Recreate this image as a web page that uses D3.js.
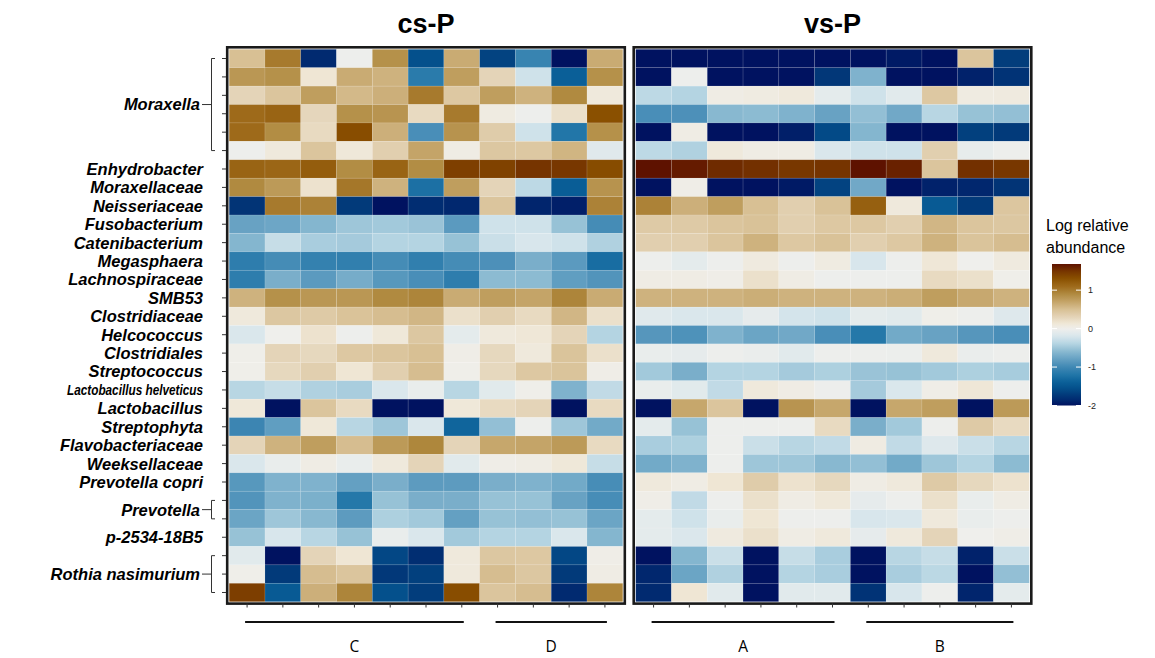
<!DOCTYPE html>
<html>
<head>
<meta charset="utf-8">
<script src="https://cdn.jsdelivr.net/npm/d3@7"></script>
<style>
  body { margin: 0; background: #fff; }
  svg { display: block; font-family: "Liberation Sans", Arial, sans-serif; }
</style>
</head>
<body>
<svg id="chart" width="1155" height="658"></svg>
<script>
// taxa groups: name, number of rows
const groups = [
  ["Moraxella", 6], ["Enhydrobacter", 1], ["Moraxellaceae", 1], ["Neisseriaceae", 1],
  ["Fusobacterium", 1], ["Catenibacterium", 1], ["Megasphaera", 1], ["Lachnospiraceae", 1],
  ["SMB53", 1], ["Clostridiaceae", 1], ["Helcococcus", 1], ["Clostridiales", 1],
  ["Streptococcus", 1], ["Lactobacillus helveticus", 1], ["Lactobacillus", 1], ["Streptophyta", 1],
  ["Flavobacteriaceae", 1], ["Weeksellaceae", 1], ["Prevotella copri", 1], ["Prevotella", 2],
  ["p-2534-18B5", 1], ["Rothia nasimurium", 3]
]

const panels = ["cs-P", "vs-P"]
const samples = d3.range(1, 12).map(d => "s" + d)
const sampleGroups = {
  "cs-P": [["C", 1, 7], ["D", 8, 11]],
  "vs-P": [["A", 1, 6], ["B", 7, 11]]
}
const legendTicks = [1, 0, -1, -2]

// log relative abundance, one row per taxon row, 11 samples
const csP = [
  [0.5, 1.0, -1.85, -0.02, 0.85, -1.55, 0.65, -1.65, -1.05, -2, 0.65],
  [0.8, 0.85, 0.15, 0.65, 0.6, -1.15, 0.75, 0.3, -0.25, -1.4, 0.85],
  [0.3, 0.45, 0.75, 0.55, 0.62, 1.0, 0.42, 0.75, 0.6, 0.9, 0.1],
  [1.1, 1.15, 0.28, 0.85, 0.82, 0.25, 1.0, 0.07, -0.02, 0.2, 1.3],
  [1.1, 0.88, 0.25, 1.32, 0.62, -0.95, 0.83, 0.38, -0.25, -1.2, 0.85],
  [-0.02, 0.1, 0.45, 0.12, 0.35, 0.7, 0.05, 0.43, 0.42, 0.58, -0.13],
  [1.15, 1.13, 1.2, 0.88, 1.15, 0.88, 1.42, 1.4, 1.5, 1.48, 1.33],
  [0.9, 0.78, 0.18, 1.02, 0.6, -1.25, 0.75, 0.3, -0.35, -1.42, 0.83],
  [-1.77, 1.0, 0.95, -1.72, -2, -1.83, -1.86, 0.45, -1.88, -1.92, 0.95],
  [-0.78, -0.75, -0.62, -0.5, -0.48, -0.52, -0.85, -0.25, -0.25, -0.53, -0.97],
  [-0.62, -0.3, -0.45, -0.47, -0.4, -0.4, -0.53, -0.28, -0.2, -0.25, -0.42],
  [-1.12, -0.97, -1.08, -1.1, -0.97, -1.1, -0.97, -0.93, -0.68, -0.85, -1.28],
  [-1.12, -0.68, -0.85, -0.7, -0.87, -0.95, -1.12, -0.58, -0.58, -0.82, -0.9],
  [0.6, 0.85, 0.8, 0.8, 0.9, 0.93, 0.65, 0.75, 0.7, 0.93, 0.65],
  [0.1, 0.43, 0.4, 0.47, 0.52, 0.57, 0.2, 0.35, 0.25, 0.57, 0.2],
  [-0.18, 0.0, 0.18, -0.02, 0.12, 0.43, -0.1, 0.1, 0.13, 0.3, -0.4],
  [0.02, 0.3, 0.27, 0.42, 0.45, 0.5, 0.03, 0.27, 0.1, 0.46, 0.2],
  [0.02, 0.27, 0.35, 0.15, 0.35, 0.52, 0.02, 0.27, 0.42, 0.46, 0.03],
  [-0.38, -0.3, -0.42, -0.45, -0.18, -0.05, -0.38, -0.12, 0.02, -0.65, -0.33],
  [0.12, -2, 0.45, 0.25, -2, -2, 0.12, 0.25, 0.3, -2, 0.25],
  [-1.03, -0.82, 0.12, -0.38, -0.5, -0.18, -1.35, -0.55, -0.02, -0.5, -0.72],
  [0.3, 0.6, 0.75, 0.52, 0.78, 0.92, 0.3, 0.68, 0.7, 0.78, 0.25],
  [-0.18, -0.05, 0.05, -0.05, 0.1, 0.3, -0.12, 0.03, 0.05, 0.12, -0.3],
  [-0.87, -0.65, -0.65, -0.8, -0.68, -0.84, -0.84, -0.68, -0.65, -0.72, -0.96],
  [-0.9, -0.65, -0.67, -1.18, -0.53, -0.68, -0.68, -0.53, -0.53, -0.78, -0.96],
  [-0.76, -0.5, -0.6, -0.84, -0.43, -0.48, -0.8, -0.53, -0.55, -0.53, -0.76],
  [-0.53, -0.2, -0.38, -0.53, -0.05, -0.18, -0.48, -0.4, -0.4, -0.18, -0.62],
  [-0.12, -2, 0.3, 0.15, -1.62, -1.82, 0.1, 0.43, 0.42, -1.62, 0.03],
  [0.02, -1.72, 0.52, 0.45, -1.74, -1.68, 0.1, 0.52, 0.43, -1.72, 0.05],
  [1.43, -1.45, 0.62, 0.93, -1.55, -1.7, 1.32, 0.45, 0.52, -1.85, 0.93]
]

const vsP = [
  [-2, -2, -2, -2, -2, -2, -2, -1.95, -2, 0.45, -1.7],
  [-2, -0.02, -2, -2, -2, -1.75, -0.65, -2, -2, -1.9, -1.78],
  [-0.35, -0.4, 0.05, 0.07, 0.1, -0.1, -0.25, -0.12, 0.42, 0.07, 0.08],
  [-0.95, -0.93, -0.6, -0.58, -0.65, -0.78, -0.55, -0.73, -0.38, -0.53, -0.55],
  [-2, 0.05, -2, -2, -1.92, -1.6, -0.62, -2, -2, -1.68, -1.72],
  [-0.35, -0.42, 0.1, 0.05, 0.05, -0.18, -0.25, -0.25, 0.35, -0.07, -0.02],
  [1.7, 1.63, 1.55, 1.52, 1.48, 1.5, 1.7, 1.6, 0.45, 1.52, 1.48],
  [-2, 0.03, -2, -2, -1.95, -1.65, -0.73, -2, -1.9, -1.87, -1.77],
  [0.95, 0.62, 0.75, 0.5, 0.35, 0.48, 1.18, 0.1, -1.45, -1.72, 0.44],
  [0.4, 0.4, 0.45, 0.48, 0.35, 0.42, 0.42, 0.35, 0.57, 0.45, 0.43],
  [0.35, 0.35, 0.45, 0.6, 0.42, 0.48, 0.35, 0.42, 0.6, 0.46, 0.52],
  [-0.02, -0.1, -0.02, 0.08, -0.02, 0.07, -0.2, -0.02, 0.13, 0.0, 0.08],
  [0.05, 0.05, 0.03, 0.2, 0.05, -0.02, -0.02, -0.02, 0.25, 0.2, 0.02],
  [0.6, 0.6, 0.6, 0.63, 0.6, 0.6, 0.6, 0.63, 0.75, 0.67, 0.6],
  [-0.13, -0.18, -0.18, -0.08, -0.22, -0.25, -0.1, -0.12, 0.02, -0.02, -0.15],
  [-0.88, -0.92, -0.65, -0.76, -0.73, -0.95, -1.18, -0.72, -0.78, -0.88, -0.95],
  [-0.05, -0.08, -0.02, -0.04, -0.12, -0.02, -0.02, -0.03, 0.1, -0.04, -0.02],
  [-0.48, -0.68, -0.4, -0.4, -0.47, -0.43, -0.52, -0.53, -0.48, -0.43, -0.46],
  [-0.05, -0.12, -0.33, 0.1, 0.05, -0.02, -0.47, -0.18, 0.03, 0.13, -0.02],
  [-2, 0.68, 0.45, -2, 0.82, 0.68, -2, 0.68, 0.75, -2, 0.78],
  [-0.1, -0.53, -0.02, -0.02, -0.02, 0.25, -0.68, -0.48, -0.02, 0.4, 0.25],
  [-0.45, -0.43, -0.02, -0.28, -0.38, -0.33, 0.06, -0.33, -0.15, -0.28, -0.38],
  [-0.72, -0.65, -0.02, -0.5, -0.5, -0.6, -0.55, -0.72, -0.5, -0.4, -0.58],
  [0.1, 0.05, 0.15, 0.38, 0.18, 0.27, 0.05, 0.1, 0.4, 0.27, 0.18],
  [0.03, -0.33, -0.02, 0.2, 0.05, 0.12, -0.08, -0.02, 0.2, -0.05, 0.05],
  [-0.1, -0.25, -0.05, 0.15, -0.02, -0.02, -0.2, -0.18, 0.1, -0.05, -0.02],
  [-0.1, -0.17, 0.08, 0.2, 0.05, 0.1, -0.08, 0.1, 0.3, 0.0, 0.03],
  [-2, -0.62, -0.28, -2, -0.3, -0.45, -2, -0.38, -0.3, -1.9, -0.28],
  [-1.87, -0.76, -0.42, -2, -0.4, -0.45, -2, -0.45, -0.36, -2, -0.55],
  [-1.85, 0.15, -0.12, -2, -0.12, -0.12, -1.78, -0.2, -0.02, -1.88, -0.1]
]

const rows = []
groups.forEach(([name, n]) => d3.range(n).forEach(i => rows.push(name + "_" + i)))

const svg = d3.select("#chart")

const y = d3.scaleBand().domain(rows).range([49.3, 601.7])
const panelX = {
  "cs-P": d3.scaleBand().domain(samples).range([229.2, 622.8]),
  "vs-P": d3.scaleBand().domain(samples).range([635.7, 1029.3])
}

const color = d3.scaleLinear()
  .domain([-2, -1.85, -1.7, -1.55, -1.4, -1.2, -1, -0.8, -0.6, -0.4, -0.2, 0,
           0.15, 0.3, 0.5, 0.7, 0.9, 1.1, 1.3, 1.5, 1.68])
  .range(["#001260", "#012a70", "#023d7c", "#04508c", "#0a5f98", "#2276a8", "#4088b4",
          "#64a0c2", "#88b8d0", "#b4d4e2", "#d8e6ec", "#efefec", "#efe6d4", "#e4d4b8",
          "#d8c094", "#c4a468", "#b08a40", "#9e6a1a", "#8a5000", "#763400", "#5e1200"])
  .clamp(true)

const dataByPanel = { "cs-P": csP, "vs-P": vsP }

panels.forEach(p => {
  const x = panelX[p]
  const cells = []
  dataByPanel[p].forEach((vals, r) => vals.forEach((v, c) => cells.push({ row: rows[r], col: samples[c], v })))

  const g = svg.append("g").attr("class", "panel")
  g.selectAll("rect.cell")
    .data(cells)
    .join("rect")
    .attr("class", "cell")
    .attr("x", d => x(d.col))
    .attr("y", d => y(d.row))
    .attr("width", x.bandwidth())
    .attr("height", y.bandwidth())
    .attr("fill", d => color(d.v))
    .attr("stroke", "rgba(255,255,255,0.18)")
    .attr("stroke-width", 0.6)

  const [x0, x1] = x.range()
  g.append("rect")
    .attr("x", x0 - 2).attr("y", 47.3)
    .attr("width", x1 - x0 + 4).attr("height", 556.3)
    .attr("fill", "none").attr("stroke", "#1a1a1a").attr("stroke-width", 2.6)

  // bottom ticks
  g.selectAll("line.xt")
    .data(samples)
    .join("line")
    .attr("x1", d => x(d) + x.bandwidth() / 2).attr("x2", d => x(d) + x.bandwidth() / 2)
    .attr("y1", 603.5).attr("y2", 607.5)
    .attr("stroke", "#333").attr("stroke-width", 1)

  g.append("text")
    .attr("x", (x0 + x1) / 2).attr("y", 33)
    .attr("text-anchor", "middle")
    .attr("font-size", 27).attr("font-weight", "bold")
    .text(p)

  // sample group bars
  sampleGroups[p].forEach(([lab, a, b]) => {
    const xa = x(samples[a - 1]) + x.bandwidth() / 2 - 2
    const xb = x(samples[b - 1]) + x.bandwidth() / 2 + 2
    g.append("line")
      .attr("x1", xa).attr("x2", xb).attr("y1", 622).attr("y2", 622)
      .attr("stroke", "#111").attr("stroke-width", 2)
    g.append("text")
      .attr("x", (xa + xb) / 2).attr("y", 652)
      .attr("text-anchor", "middle").attr("font-size", 15.5)
      .attr("font-family", "'Open Sans', sans-serif")
      .text(lab)
  })
})

// row ticks on the left
svg.selectAll("line.yt")
  .data(rows)
  .join("line")
  .attr("x1", 222).attr("x2", 226)
  .attr("y1", d => y(d) + y.bandwidth() / 2).attr("y2", d => y(d) + y.bandwidth() / 2)
  .attr("stroke", "#333").attr("stroke-width", 1)

// row labels and brackets
const lab = svg.append("g")
  .attr("font-size", 16.5).attr("font-weight", "bold").attr("font-style", "italic")
groups.forEach(([name, n]) => {
  const yTop = y(name + "_0") + y.bandwidth() / 2
  const yBot = y(name + "_" + (n - 1)) + y.bandwidth() / 2
  const yc = (yTop + yBot) / 2
  const t = lab.append("text").attr("y", yc).attr("dy", "0.36em")
    .attr("text-anchor", "end").text(name)
  if (n === 1) {
    t.attr("x", 203)
  } else {
    t.attr("x", 200)
    svg.append("path")
      .attr("d", `M202,${yc}H211M215,${yTop}H211.5V${yBot}H215`)
      .attr("fill", "none").attr("stroke", "#333").attr("stroke-width", 1)
  }
  // this label is set smaller in the original figure
  if (name === "Lactobacillus helveticus") {
    t.attr("font-size", 14.5).attr("textLength", 136).attr("lengthAdjust", "spacingAndGlyphs")
  }
})

// colour legend
const legY = d3.scaleLinear().domain([-2, 1.68]).range([405.5, 264])
const defs = svg.append("defs")
const grad = defs.append("linearGradient").attr("id", "leg")
  .attr("x1", 0).attr("x2", 0).attr("y1", 1).attr("y2", 0)
d3.range(0, 1.0001, 0.02).forEach(t => {
  grad.append("stop").attr("offset", t).attr("stop-color", color(-2 + t * 3.68))
})
svg.append("rect")
  .attr("x", 1052).attr("y", 264).attr("width", 29).attr("height", 141.5)
  .attr("fill", "url(#leg)")
legendTicks.forEach(t => {
  const ty = legY(t)
  svg.append("line").attr("x1", 1052).attr("x2", 1057).attr("y1", ty).attr("y2", ty)
    .attr("stroke", "#fff").attr("stroke-width", 1)
  svg.append("line").attr("x1", 1076).attr("x2", 1081).attr("y1", ty).attr("y2", ty)
    .attr("stroke", "#fff").attr("stroke-width", 1)
  svg.append("text").attr("x", 1088).attr("y", ty).attr("dy", "0.35em")
    .attr("font-size", 9).attr("fill", "#222").text(t)
})
svg.append("text").attr("x", 1046).attr("y", 231).attr("font-size", 16).text("Log relative")
svg.append("text").attr("x", 1046).attr("y", 253).attr("font-size", 16).text("abundance")
</script>
</body>
</html>
